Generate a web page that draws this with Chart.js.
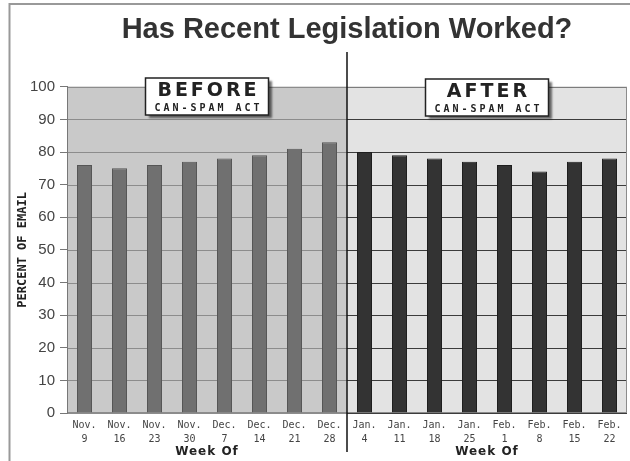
<!DOCTYPE html>
<html>
<head>
<meta charset="utf-8">
<script src="https://cdn.jsdelivr.net/npm/chart.js@4.4.0/dist/chart.umd.min.js"></script>
<style>
  html, body { margin: 0; padding: 0; background: #fff; }
  #wrap { width: 630px; height: 461px; position: relative; }
</style>
</head>
<body>
<div id="wrap"><canvas id="chart-spam" width="630" height="461"></canvas></div>
<script>
// weeks before / after the CAN-SPAM act
const beforeWeeks = [[`Nov.`, `9`], [`Nov.`, `16`], [`Nov.`, `23`], [`Nov.`, `30`], [`Dec.`, `7`], [`Dec.`, `14`], [`Dec.`, `21`], [`Dec.`, `28`]];
const afterWeeks = [[`Jan.`, `4`], [`Jan.`, `11`], [`Jan.`, `18`], [`Jan.`, `25`], [`Feb.`, `1`], [`Feb.`, `8`], [`Feb.`, `15`], [`Feb.`, `22`]];
const beforeValues = [76, 75, 76, 77, 78, 79, 81, 83];
const afterValues = [80, 79, 78, 77, 76, 74, 77, 78];
const yTicks = [0, 10, 20, 30, 40, 50, 60, 70, 80, 90, 100];

const labels = beforeWeeks.concat(afterWeeks);
const values = beforeValues.concat(afterValues);
const nBefore = beforeValues.length;

// panels, gridlines, boxes and extra labels
const panelsPlugin = {
  id: `panels`,
  beforeDraw(chart) {
    const { ctx, chartArea: a, scales } = chart;
    const x = scales.x;
    const y = scales.y;
    const split = (x.getPixelForValue(nBefore - 1) + x.getPixelForValue(nBefore)) / 2;
    ctx.save();
    // outer frame
    ctx.strokeStyle = `#999`;
    ctx.lineWidth = 2;
    ctx.beginPath();
    ctx.moveTo(630, 4);
    ctx.lineTo(9.5, 4);
    ctx.lineTo(9.5, 461);
    ctx.stroke();
    // backgrounds
    ctx.fillStyle = `#c9c9c9`;
    ctx.fillRect(a.left, a.top, split - a.left, a.bottom - a.top);
    ctx.fillStyle = `#e3e3e3`;
    ctx.fillRect(split, a.top, a.right - split, a.bottom - a.top);
    // gridlines
    ctx.lineWidth = 1;
    yTicks.forEach((t) => {
      const py = Math.round(y.getPixelForValue(t)) + 0.5;
      ctx.strokeStyle = `#8c8c8c`;
      ctx.beginPath();
      ctx.moveTo(a.left, py);
      ctx.lineTo(split, py);
      ctx.stroke();
      ctx.strokeStyle = `#3c3c3c`;
      ctx.beginPath();
      ctx.moveTo(split, py);
      ctx.lineTo(a.right, py);
      ctx.stroke();
    });
    // panel borders
    ctx.strokeStyle = `#8c8c8c`;
    ctx.strokeRect(a.left + 0.5, a.top + 0.5, a.right - a.left - 1, a.bottom - a.top - 1);
    ctx.restore();
  },
  afterDraw(chart) {
    const { ctx, chartArea: a, scales } = chart;
    const x = scales.x;
    const split = (x.getPixelForValue(nBefore - 1) + x.getPixelForValue(nBefore)) / 2;
    ctx.save();
    // divider
    ctx.strokeStyle = `#111`;
    ctx.lineWidth = 1.5;
    ctx.beginPath();
    ctx.moveTo(split, 52);
    ctx.lineTo(split, 452);
    ctx.stroke();

    // "Week Of"
    ctx.fillStyle = `#222`;
    ctx.font = `bold 12px "DejaVu Sans"`;
    ctx.textAlign = `center`;
    ctx.textBaseline = `middle`;
    ctx.letterSpacing = `1px`;
    ctx.fillText(`Week Of`, (a.left + split) / 2, 452);
    ctx.fillText(`Week Of`, (split + a.right) / 2, 452);

    // BEFORE / AFTER boxes
    const drawBox = (cx, top, big) => {
      const w = 123;
      const h = 37;
      ctx.save();
      ctx.shadowColor = `rgba(0,0,0,0.55)`;
      ctx.shadowOffsetX = 3;
      ctx.shadowOffsetY = 3;
      ctx.shadowBlur = 2;
      ctx.fillStyle = `#fff`;
      ctx.fillRect(cx - w / 2, top, w, h);
      ctx.restore();
      ctx.strokeStyle = `#222`;
      ctx.lineWidth = 1.5;
      ctx.strokeRect(cx - w / 2, top, w, h);
      ctx.fillStyle = `#222`;
      ctx.textAlign = `center`;
      ctx.textBaseline = `middle`;
      ctx.font = `bold 19px "DejaVu Sans"`;
      ctx.letterSpacing = `3px`;
      ctx.fillText(big, cx + 1.5, top + 13);
      ctx.font = `bold 10px "DejaVu Sans Mono"`;
      ctx.letterSpacing = `3px`;
      ctx.fillText(`CAN-SPAM ACT`, cx + 1.5, top + 30);
    };
    drawBox((a.left + split) / 2, 78, `BEFORE`);
    drawBox((split + a.right) / 2, 79, `AFTER`);
    ctx.restore();
  }
};

const ctxSpam = document.getElementById(`chart-spam`);

const chartSpam = new Chart(ctxSpam, {
  type: `bar`,
  data: {
    labels: labels,
    datasets: [{
      label: `Percent of email`,
      data: values,
      backgroundColor: values.map((v, i) => (i < nBefore ? `#707070` : `#333333`)),
      borderColor: values.map((v, i) => (i < nBefore ? `#555555` : `#1e1e1e`)),
      borderWidth: 1,
      borderSkipped: `bottom`,
      categoryPercentage: 1,
      barPercentage: 0.43,
    }]
  },
  options: {
    responsive: false,
    animation: false,
    layout: {
      padding: { left: 0, right: 3, top: 0, bottom: 0 }
    },
    plugins: {
      legend: { display: false },
      tooltip: { enabled: false },
      title: {
        display: true,
        fullSize: false,
        text: `Has Recent Legislation Worked?`,
        color: `#333`,
        font: { family: `"Liberation Sans", Arial, sans-serif`, size: 29, weight: `bold` },
        padding: { top: 13, bottom: 39 },
      }
    },
    scales: {
      x: {
        grid: { display: false, drawTicks: false },
        border: { display: false },
        ticks: {
          color: `#444`,
          padding: 5,
          maxRotation: 0,
          autoSkip: false,
          font: { family: `"DejaVu Sans Mono", monospace`, size: 10, lineHeight: 1.4 },
        },
        afterFit(scale) { scale.height = 48; },
      },
      y: {
        min: 0,
        max: 100,
        afterBuildTicks(scale) { scale.ticks = yTicks.map((v) => ({ value: v })); },
        grid: { drawOnChartArea: false, drawTicks: true, tickLength: 7, color: `#777` },
        border: { display: true, color: `#777` },
        ticks: {
          color: `#444`,
          padding: 5,
          font: { family: `"Liberation Sans", Arial, sans-serif`, size: 15 },
        },
        title: {
          display: true,
          text: `PERCENT OF EMAIL`,
          color: `#222`,
          padding: { top: 16, bottom: 0 },
          font: { family: `"DejaVu Sans Mono", monospace`, size: 12, weight: `bold` },
        },
        afterFit(scale) { scale.width = 67; },
      }
    }
  },
  plugins: [panelsPlugin]
});
</script>
</body>
</html>
